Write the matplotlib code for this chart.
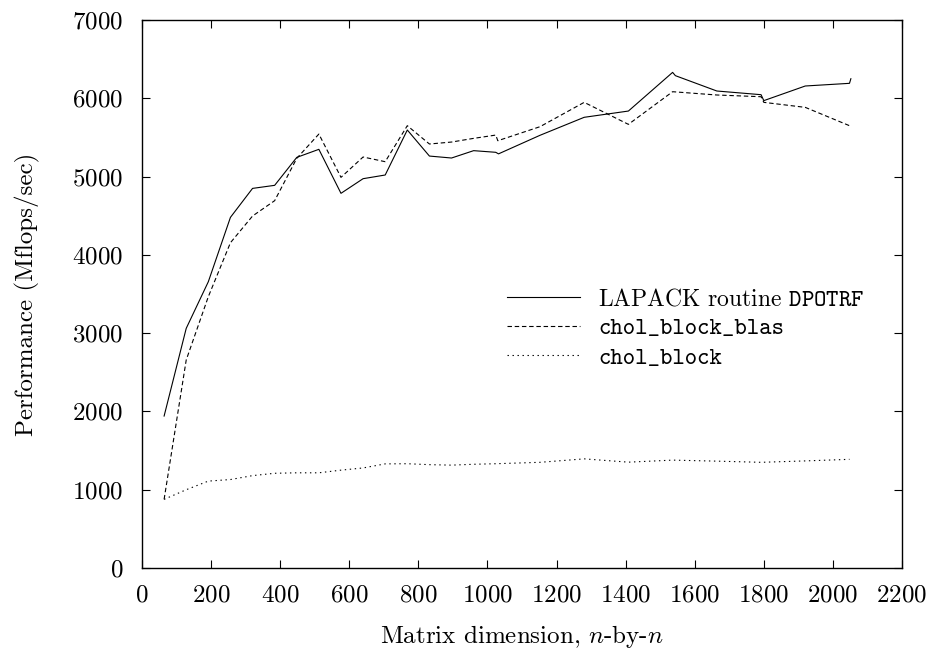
import numpy as np
import matplotlib
matplotlib.use('Agg')
import matplotlib.pyplot as plt

plt.rcParams['font.family'] = 'cmr10'
plt.rcParams['mathtext.fontset'] = 'cm'
plt.rcParams['axes.formatter.use_mathtext'] = True
plt.rcParams['lines.scale_dashes'] = False

# LAPACK routine DPOTRF
n_lapack = [64, 128, 192, 256, 320, 384, 448, 512, 576, 640, 704, 768, 832, 896, 960,
            1024, 1032, 1152, 1280, 1408, 1536, 1544, 1664, 1792, 1800, 1920, 2048, 2052]
p_lapack = [1941, 3061, 3657, 4479, 4849, 4888, 5245, 5348, 4786, 4973, 5020, 5595, 5262, 5237, 5331,
            5310, 5290, 5527, 5757, 5837, 6331, 6289, 6093, 6046, 5970, 6157, 6191, 6250]

# chol_block_blas
n_blas = [64, 128, 192, 256, 320, 384, 448, 512, 576, 640, 704, 768, 832, 896, 960,
          1024, 1030, 1152, 1280, 1408, 1536, 1664, 1792, 1800, 1920, 2048]
p_blas = [877, 2657, 3466, 4155, 4496, 4692, 5233, 5543, 4990, 5250, 5190, 5650, 5416, 5441, 5488,
          5530, 5458, 5637, 5948, 5667, 6084, 6042, 6020, 5948, 5884, 5650]

# chol_block
n_block = [64, 128, 192, 256, 320, 384, 448, 512, 576, 640, 704, 768, 832, 896, 960,
           1024, 1152, 1280, 1408, 1536, 1664, 1792, 1920, 2048]
p_block = [877, 1000, 1110, 1130, 1180, 1210, 1216, 1216, 1250, 1278, 1330, 1332, 1320, 1314, 1325,
           1332, 1350, 1394, 1352, 1378, 1365, 1350, 1368, 1388]

fig = plt.figure(figsize=(9.36, 6.58), dpi=100)
ax = fig.add_axes([142/936, 1 - 568/658, 760/936, 548/658])

ax.plot(n_lapack, p_lapack, color='k', lw=0.8, label=r'LAPACK routine $\mathtt{DPOTRF}$')
ax.plot(n_blas, p_blas, color='k', lw=0.8, dashes=(3.2, 2.0), label='chol_block_blas')
ax.plot(n_block, p_block, color='k', lw=0.8, dashes=(1.0, 2.6), label='chol_block')

ax.set_xlim(0, 2200)
ax.set_ylim(0, 7000)
ax.set_xticks(np.arange(0, 2201, 200))
ax.set_yticks(np.arange(0, 7001, 1000))
ax.tick_params(direction='in', top=True, right=True, length=5.5, width=0.8, labelsize=18)
ax.tick_params(axis='x', pad=11.5)
ax.tick_params(axis='y', pad=13.5)
for s in ax.spines.values():
    s.set_linewidth(1.0)

ax.set_xlabel(r'Matrix dimension, $n$-by-$n$', fontsize=18, labelpad=12)
ax.set_ylabel('Performance (Mflops/sec)', fontsize=18, labelpad=23)

leg = ax.legend(loc='center left', bbox_to_anchor=(0.480, 0.436), frameon=False, fontsize=17,
                handlelength=3.1, handletextpad=0.76, labelspacing=0.3, borderaxespad=0,
                borderpad=0)
leg.get_texts()[1].set_fontfamily('cmtt10')
leg.get_texts()[2].set_fontfamily('cmtt10')

fig.savefig('out.png', dpi=100)
